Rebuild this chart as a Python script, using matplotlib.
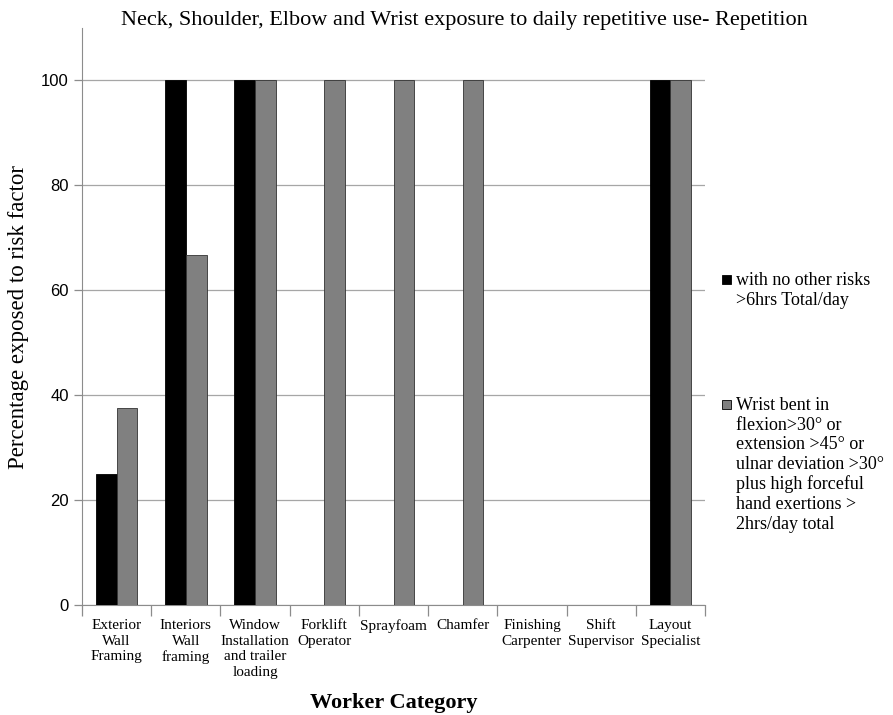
import matplotlib
matplotlib.use("Agg")
import matplotlib.pyplot as plt
import numpy as np
from matplotlib.patches import Rectangle

categories = [
    "Exterior\nWall\nFraming",
    "Interiors\nWall\nframing",
    "Window\nInstallation\nand trailer\nloading",
    "Forklift\nOperator",
    "Sprayfoam",
    "Chamfer",
    "Finishing\nCarpenter",
    "Shift\nSupervisor",
    "Layout\nSpecialist",
]
no_other_risks = [25, 100, 100, 0, 0, 0, 0, 0, 100]
wrist_bent = [37.5, 66.7, 100, 100, 100, 100, 0, 0, 100]

series_labels = [
    "with no other risks\n>6hrs Total/day",
    "Wrist bent in\nflexion>30° or\nextension >45° or\nulnar deviation >30°\nplus high forceful\nhand exertions >\n2hrs/day total",
]
series_colors = ["black", "#808080"]

SERIF = "Liberation Serif"
SANS = "Liberation Sans"

fig = plt.figure(figsize=(8.93, 7.15), dpi=100)
ax = fig.add_axes([0.0918, 0.1538, 0.6977, 0.807])

x = np.arange(len(categories))
w = 0.30
ax.bar(x - w / 2, no_other_risks, w, color=series_colors[0], edgecolor="black", linewidth=0.6, zorder=3)
ax.bar(x + w / 2, wrist_bent, w, color=series_colors[1], edgecolor="#333333", linewidth=0.6, zorder=3)

ax.set_xlim(-0.5, len(categories) - 0.5)
ax.set_ylim(0, 110)
ax.set_yticks([0, 20, 40, 60, 80, 100])
ax.yaxis.grid(True, color="#a6a6a6", linewidth=0.9, zorder=0)
ax.set_axisbelow(True)

for s in ["top", "right"]:
    ax.spines[s].set_visible(False)
ax.spines["left"].set_color("#8c8c8c")
ax.spines["bottom"].set_color("#8c8c8c")

ax.tick_params(axis="y", colors="#8c8c8c", length=6, width=0.9, labelcolor="black", labelsize=12)
for lbl in ax.get_yticklabels():
    lbl.set_family(SANS)

ax.set_xticks(x)
ax.set_xticklabels(categories, fontsize=11, va="top", linespacing=1.27)
for lbl in ax.get_xticklabels():
    lbl.set_family(SERIF)
ax.tick_params(axis="x", which="major", length=0, pad=10)
ax.set_xticks(np.arange(len(categories) + 1) - 0.5, minor=True)
ax.tick_params(axis="x", which="minor", length=8, color="#8c8c8c", width=0.9)

ax.set_ylabel("Percentage exposed to risk factor", fontsize=16.5, family=SERIF, labelpad=9)
ax.text(0.5, -0.17, "Worker Category", transform=ax.transAxes, ha="center", va="center",
        fontsize=16, fontweight="bold", family=SERIF)
fig.text(0.52, 0.972, "Neck, Shoulder, Elbow and Wrist exposure to daily repetitive use- Repetition",
         ha="center", va="center", fontsize=16, family=SERIF)

# legend entries: a small swatch followed by wrapped text, top-aligned
for top_px, color, label in [(272, series_colors[0], series_labels[0]),
                             (397, series_colors[1], series_labels[1])]:
    sq = 9 / 715
    fig.patches.append(Rectangle((722 / 893, 1 - (top_px + 12) / 715), 9 / 893, sq,
                                 transform=fig.transFigure, facecolor=color,
                                 edgecolor="black", linewidth=0.6))
    fig.text(736 / 893, 1 - top_px / 715, label, ha="left", va="top",
             fontsize=13, family=SERIF, linespacing=1.2)

fig.savefig("out.png", dpi=100)
